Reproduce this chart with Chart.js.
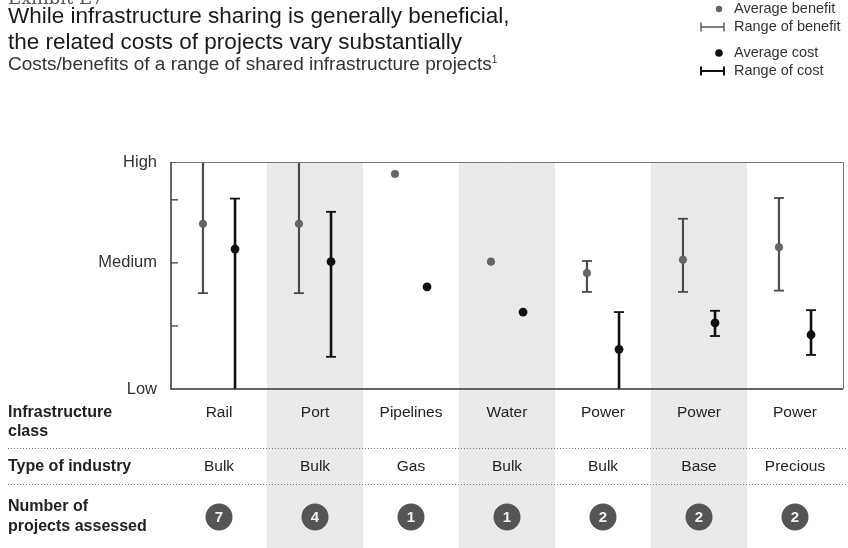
<!DOCTYPE html>
<html>
<head>
<meta charset="utf-8">
<script src="https://cdn.jsdelivr.net/npm/chart.js@4"></script>
<style>
  body { margin:0; background:#fff; font-family:"Liberation Sans", Arial, sans-serif; }
  #wrap { position:relative; width:848px; height:548px; overflow:hidden; }
  #chart { position:absolute; left:0; top:0; }
  .t { position:absolute; left:8px; white-space:nowrap; color:#1a1a1a; }
  #exh { top:-13px; font-family:"DejaVu Serif", serif; font-size:18px; color:#555; }
  #t1 { top:3px; font-size:22.5px; }
  #t2 { top:29px; font-size:22.5px; }
  #sub { top:53px; font-size:19px; color:#333; }
  #sub sup { font-size:10px; }
</style>
</head>
<body>
<div id="wrap">
  <canvas id="chart" width="848" height="548"></canvas>
  <div class="t" id="exh">Exhibit E7</div>
  <div class="t" id="t1">While infrastructure sharing is generally beneficial,</div>
  <div class="t" id="t2">the related costs of projects vary substantially</div>
  <div class="t" id="sub">Costs/benefits of a range of shared infrastructure projects<sup>1</sup></div>
</div>
<script>
// Données (Low = 0, Medium = 2, High = 3.6)
const categories = ['Rail', 'Port', 'Pipelines', 'Water', 'Power', 'Power', 'Power'];
const industry = ['Bulk', 'Bulk', 'Gas', 'Bulk', 'Bulk', 'Base', 'Precious'];
const projects = [7, 4, 1, 1, 2, 2, 2];
const benefitAvg  = [2.62, 2.62, 3.41, 2.02, 1.84, 2.05, 2.25];
const benefitLow  = [1.52, 1.52, null, null, 1.54, 1.54, 1.56];
const benefitHigh = [3.6, 3.6, null, null, 2.03, 2.70, 3.03];
const costAvg  = [2.22, 2.02, 1.62, 1.22, 0.63, 1.05, 0.86];
const costLow  = [0, 0.51, null, null, 0, 0.84, 0.54];
const costHigh = [3.02, 2.81, null, null, 1.22, 1.24, 1.25];
const yTicks = [0, 1, 2, 3, 3.6];
const yTickLabels = { 0: 'Low', 2: 'Medium', 3.6: 'High' };
const shaded = [1, 3, 5];
const off = 0.167;

const FONT = '"Liberation Sans", Arial, sans-serif';

const tablePlugin = {
  id: 'table',
  beforeDraw(chart) {
    const { ctx, chartArea: a, scales: { x } } = chart;
    ctx.save();
    ctx.fillStyle = '#eaeaea';
    shaded.forEach(i => {
      const l = x.getPixelForValue(i - 0.5), r = x.getPixelForValue(i + 0.5);
      ctx.fillRect(l, a.top, r - l, 548 - a.top);
    });
    ctx.restore();
  },
  beforeDatasetsDraw(chart) {
    const { ctx, scales: { x, y } } = chart;
    const bar = (lo, hi, xv, color, w) => {
      lo.forEach((v, i) => {
        if (v === null) return;
        const px = x.getPixelForValue(i + xv);
        const y1 = y.getPixelForValue(v), y2 = y.getPixelForValue(hi[i]);
        ctx.strokeStyle = color; ctx.lineWidth = w;
        ctx.beginPath(); ctx.moveTo(px, y1); ctx.lineTo(px, y2); ctx.stroke();
        ctx.lineWidth = 1.8;
        [v, hi[i]].forEach(c => {
          if (c <= 0 || c >= 3.6) return;
          const py = y.getPixelForValue(c);
          ctx.beginPath(); ctx.moveTo(px - 5, py); ctx.lineTo(px + 5, py); ctx.stroke();
        });
      });
    };
    ctx.save();
    bar(benefitLow, benefitHigh, -off, '#4a4a4a', 2.2);
    bar(costLow, costHigh, off, '#111', 2.6);
    ctx.restore();
  },
  afterDraw(chart) {
    const { ctx, chartArea: a, scales: { x, y } } = chart;
    ctx.save();
    // cadre
    ctx.strokeStyle = '#777'; ctx.lineWidth = 1;
    ctx.beginPath(); ctx.moveTo(a.left, a.top + 0.5); ctx.lineTo(a.right + 0.5, a.top + 0.5); ctx.lineTo(a.right + 0.5, a.bottom); ctx.stroke();
    ctx.strokeStyle = '#333'; ctx.lineWidth = 1.5;
    ctx.beginPath(); ctx.moveTo(a.left, a.top); ctx.lineTo(a.left, a.bottom); ctx.lineTo(a.right, a.bottom); ctx.stroke();
    // petits traits de graduation vers l'intérieur
    ctx.lineWidth = 1.2;
    [1, 2, 3].forEach(v => {
      const py = y.getPixelForValue(v);
      ctx.beginPath(); ctx.moveTo(a.left, py); ctx.lineTo(a.left + 7, py); ctx.stroke();
    });

    // tableau du bas
    ctx.fillStyle = '#222';
    ctx.textBaseline = 'middle';
    ctx.font = 'bold 16px ' + FONT;
    ctx.textAlign = 'left';
    ctx.fillText('Infrastructure', 8, 413);
    ctx.fillText('class', 8, 432);
    ctx.fillText('Type of industry', 8, 467);
    ctx.fillText('Number of', 8, 507);
    ctx.fillText('projects assessed', 8, 527);

    ctx.textAlign = 'center';
    categories.forEach((c, i) => {
      const px = x.getPixelForValue(i);
      ctx.font = '15.5px ' + FONT;
      ctx.fillStyle = '#222';
      ctx.fillText(c, px, 413);
      ctx.fillText(industry[i], px, 467);
      ctx.fillStyle = '#555';
      ctx.beginPath(); ctx.arc(px, 517, 13.5, 0, Math.PI * 2); ctx.fill();
      ctx.fillStyle = '#f2f2f2';
      ctx.font = 'bold 15px ' + FONT;
      ctx.fillText(String(projects[i]), px, 518);
    });

    ctx.strokeStyle = '#777'; ctx.lineWidth = 1; ctx.setLineDash([1, 2]);
    [448.5, 484.5].forEach(py => {
      ctx.beginPath(); ctx.moveTo(8, py); ctx.lineTo(848, py); ctx.stroke();
    });
    ctx.setLineDash([]);

    // légende
    ctx.font = '14.5px ' + FONT;
    ctx.textAlign = 'left';
    ctx.fillStyle = '#333';
    ctx.fillText('Average benefit', 734, 9);
    ctx.fillText('Range of benefit', 734, 27);
    ctx.fillText('Average cost', 734, 53);
    ctx.fillText('Range of cost', 734, 71);
    ctx.fillStyle = '#666';
    ctx.beginPath(); ctx.arc(719, 9, 3.2, 0, Math.PI * 2); ctx.fill();
    ctx.fillStyle = '#111';
    ctx.beginPath(); ctx.arc(719, 53, 3.8, 0, Math.PI * 2); ctx.fill();
    [[27, '#555', 1.4], [71, '#111', 2]].forEach(([py, col, w]) => {
      ctx.strokeStyle = col; ctx.lineWidth = w;
      ctx.beginPath(); ctx.moveTo(701, py); ctx.lineTo(724, py);
      ctx.moveTo(701, py - 4.5); ctx.lineTo(701, py + 4.5);
      ctx.moveTo(724, py - 4.5); ctx.lineTo(724, py + 4.5);
      ctx.stroke();
    });
    ctx.restore();
  }
};

new Chart(document.getElementById('chart'), {
  type: 'scatter',
  data: {
    datasets: [
      {
        label: 'Average benefit',
        data: benefitAvg.map((v, i) => ({ x: i - off, y: v })),
        backgroundColor: '#666', borderColor: '#555', borderWidth: 0.5,
        pointRadius: 3.8
      },
      {
        label: 'Average cost',
        data: costAvg.map((v, i) => ({ x: i + off, y: v })),
        backgroundColor: '#111', borderColor: '#111', borderWidth: 0,
        pointRadius: 4.4
      }
    ]
  },
  options: {
    responsive: false,
    animation: false,
    layout: { padding: { left: 0, top: 162, right: 5, bottom: 159 } },
    plugins: { legend: { display: false }, tooltip: { enabled: false } },
    scales: {
      x: { type: 'linear', min: -0.5, max: 6.5, display: false },
      y: {
        min: 0, max: 3.6,
        afterBuildTicks: s => { s.ticks = yTicks.map(v => ({ value: v })); },
        afterFit: s => { s.width = 171; },
        grid: { display: false },
        border: { display: false },
        ticks: {
          padding: 6,
          color: '#333',
          font: { family: FONT, size: 16.5 },
          callback: v => yTickLabels[v] || ''
        }
      }
    }
  },
  plugins: [tablePlugin]
});
</script>
</body>
</html>
